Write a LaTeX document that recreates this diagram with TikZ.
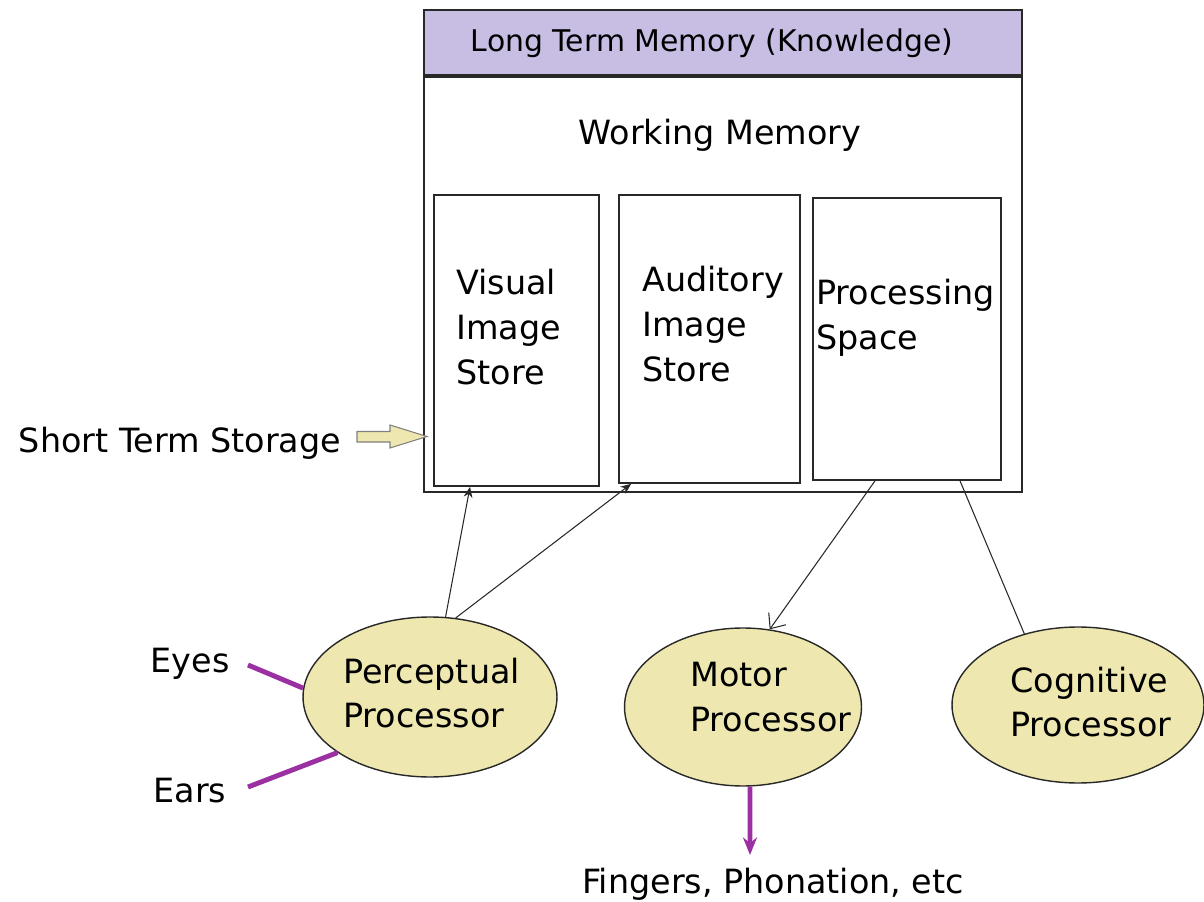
\documentclass[tikz,border=0pt]{standalone}
\usepackage{fontspec}
\setmainfont{DejaVu Sans}
\usetikzlibrary{arrows.meta,shapes.geometric,calc}
\definecolor{ltmfill}{RGB}{200,190,228}
\definecolor{procfill}{RGB}{238,232,176}
\definecolor{nerve}{RGB}{155,48,162}
\definecolor{linegray}{RGB}{40,40,40}
\tikzset{
  memframe/.style={draw=linegray, line width=1pt, inner sep=0pt},
  storebox/.style={draw=linegray, line width=1pt, inner sep=0pt},
  proc/.style={ellipse, draw=linegray, line width=0.8pt, fill=procfill, inner sep=0pt},
  lbl/.style={inner sep=0pt, font=\fontsize{19}{25.5}\selectfont},
  blocklbl/.style={lbl, align=left, anchor=west},
  flow/.style={draw=linegray, line width=0.6pt},
  nervelink/.style={draw=nerve, line width=2.8pt},
}
\begin{document}
\begin{tikzpicture}[x=0.02cm,y=-0.02cm]
\useasboundingbox (0,0) rectangle (1204,902);

% memory structure
\node[memframe, minimum width=11.96cm, minimum height=9.64cm] (wm) at (723,251) {};
\node[memframe, fill=ltmfill, minimum width=11.96cm, minimum height=1.3cm] (ltm) at (723,42.5) {};
\draw[linegray, line width=2pt] (ltm.south west) -- (ltm.south east);
\node[inner sep=0pt, font=\fontsize{17}{20}\selectfont] (ltmtext) at (712,43) {Long Term Memory (Knowledge)};
\node[lbl] (wmtext) at (720,135) {Working Memory};

\node[storebox, minimum width=3.3cm, minimum height=5.82cm] (vis) at (516.5,340.5) {};
\node[storebox, minimum width=3.62cm, minimum height=5.76cm] (aud) at (709.5,339) {};
\node[storebox, minimum width=3.76cm, minimum height=5.64cm] (space) at (907,339) {};
\node[blocklbl] (vistext) at (456,327) {Visual\\Image\\Store};
\node[blocklbl] (audtext) at (642,324) {Auditory\\Image\\Store};
\node[blocklbl] (spacetext) at (816,318) {Processing\\Space};

% short term storage pointer
\node[lbl] (sts) at (180,443) {Short Term Storage};
\coordinate (stsarrow) at (357,437);
\draw[fill=procfill, draw=gray, line width=0.6pt]
  (stsarrow) ++(0,-5.5) -- ++(33,0) -- ++(0,-6.5) -- ++(37,11.5)
  -- ++(-37,11.5) -- ++(0,-6) -- ++(-33,0) -- cycle;

% processors
\node[proc, minimum width=5.08cm, minimum height=3.2cm] (perc) at (430,697) {};
\node[proc, minimum width=4.74cm, minimum height=3.16cm] (motor) at (743,707) {};
\node[proc, minimum width=5.04cm, minimum height=3.12cm] (cog) at (1078,705) {};
\node[blocklbl] (perctext) at (343,693) {Perceptual\\Processor};
\node[blocklbl] (motortext) at (690,697) {Motor\\Processor};
\node[blocklbl] (cogtext) at (1010,702) {Cognitive\\Processor};

% flows between processors and memory
\draw[flow, -{Stealth[length=6pt,width=5pt]}] (perc.79) -- ([xshift=-0.93cm]vis.south);
\draw[flow, -{Stealth[length=6pt,width=5pt]}] (perc.72) -- ([xshift=0.26cm]aud.south west);
\draw[flow, -{Straight Barb[length=7pt,width=12pt]}] ([xshift=-0.64cm]space.south) -- (motor.71);
\draw[flow] ([xshift=1.06cm]space.south) -- (cog.127);

% senses and effectors
\node[lbl] (eyes) at (190,664) {Eyes};
\node[lbl] (ears) at (190,791) {Ears};
\coordinate (eyesend) at (248,665);
\coordinate (earsend) at (248,787);
\draw[nervelink] (eyesend) -- (perc.176);
\draw[nervelink] (earsend) -- (perc.211);

\node[lbl] (fingers) at (773,884) {Fingers, Phonation, etc};
\coordinate (effector) at (750,855);
\draw[nervelink, -{Stealth[length=10pt,width=8pt]}] ([xshift=0.14cm]motor.south) -- (effector);
\end{tikzpicture}
\end{document}
